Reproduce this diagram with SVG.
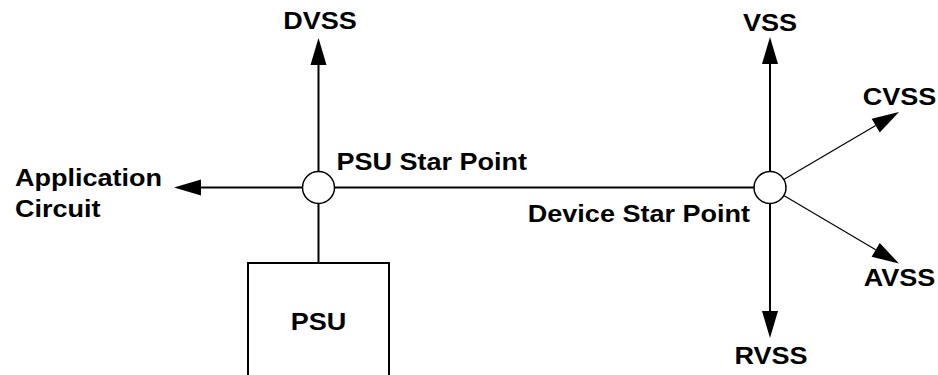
<svg xmlns="http://www.w3.org/2000/svg" width="938" height="375" viewBox="0 0 938 375">
<style>
  .ln { stroke:#000; stroke-width:2; fill:none; }
  .thin { stroke:#000; stroke-width:1.2; fill:none; }
  .node { fill:#fff; stroke:#000; stroke-width:1.5; }
  .box { fill:#fff; stroke:#000; stroke-width:2; }
  text { font-family:"Liberation Sans", Arial, sans-serif; font-weight:bold; font-size:23.5px; fill:#000; }
</style>
<defs>
  <marker id="arr" markerUnits="userSpaceOnUse" markerWidth="28" markerHeight="16" refX="0" refY="8" orient="auto" overflow="visible">
    <path d="M0,0 L27,8 L0,16 z" fill="#000"/>
  </marker>
</defs>
<g id="connectors">
  <line class="ln" x1="334.5" y1="187.5" x2="754" y2="187.5"/>
  <line class="ln" x1="318.5" y1="171.5" x2="318.5" y2="65" marker-end="url(#arr)"/>
  <line class="ln" x1="302.5" y1="187.5" x2="201" y2="187.5" marker-end="url(#arr)"/>
  <line class="ln" x1="318.5" y1="203.5" x2="318.5" y2="263"/>
  <line class="ln" x1="770" y1="171.5" x2="770" y2="64" marker-end="url(#arr)"/>
  <line class="ln" x1="770" y1="203.5" x2="770" y2="311" marker-end="url(#arr)"/>
  <line class="thin" x1="783.8" y1="179.4" x2="875.7" y2="125.6" marker-end="url(#arr)"/>
  <line class="thin" x1="783.8" y1="195.6" x2="875.7" y2="249.8" marker-end="url(#arr)"/>
</g>
<g id="psu">
  <rect class="box" x="248" y="263" width="141" height="130"/>
  <text transform="translate(318.5,329.5) scale(1.15,1)" text-anchor="middle">PSU</text>
</g>
<g id="psu-star-point">
  <circle class="node" cx="318.5" cy="187.5" r="16"/>
  <text transform="translate(336.5,169.5) scale(1.15,1)">PSU Star Point</text>
</g>
<g id="device-star-point">
  <circle class="node" cx="770" cy="187.5" r="16"/>
  <text transform="translate(750,221.5) scale(1.15,1)" text-anchor="end">Device Star Point</text>
</g>
<g id="dvss"><text transform="translate(320,29) scale(1.15,1)" text-anchor="middle">DVSS</text></g>
<g id="application-circuit">
  <text transform="translate(15,186) scale(1.15,1)">Application</text>
  <text transform="translate(15,216.5) scale(1.15,1)">Circuit</text>
</g>
<g id="vss"><text transform="translate(770,30.5) scale(1.15,1)" text-anchor="middle">VSS</text></g>
<g id="cvss"><text transform="translate(899.5,105) scale(1.15,1)" text-anchor="middle">CVSS</text></g>
<g id="avss"><text transform="translate(899.5,285.5) scale(1.15,1)" text-anchor="middle">AVSS</text></g>
<g id="rvss"><text transform="translate(771,363.5) scale(1.15,1)" text-anchor="middle">RVSS</text></g>
</svg>
